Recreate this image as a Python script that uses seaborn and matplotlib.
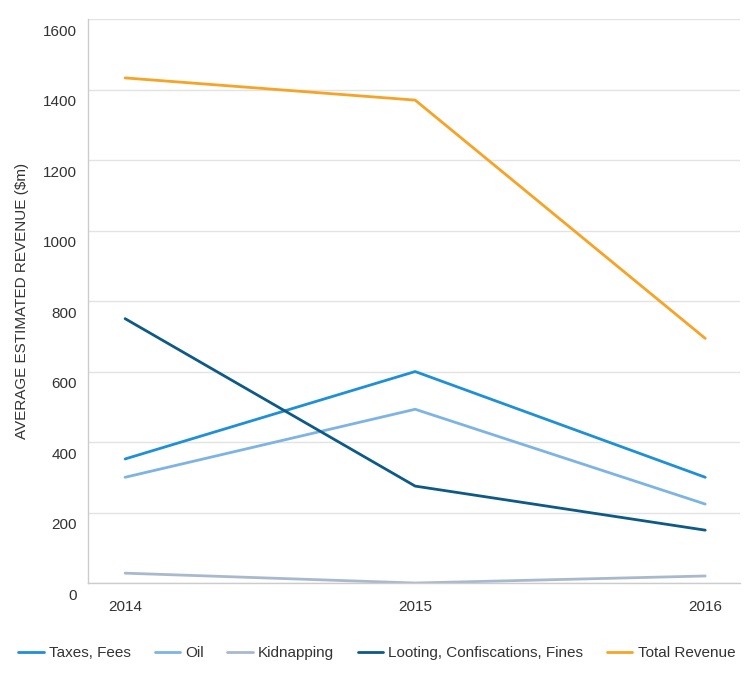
import pandas as pd
import matplotlib.pyplot as plt
import matplotlib.transforms as mtransforms
import seaborn as sns

years = [2014, 2015, 2016]
taxes_fees = [352, 600, 300]
oil = [300, 493, 224]
kidnapping = [28, 0, 20]
looting = [750, 275, 150]
total_revenue = [1433, 1370, 694]

series_names = ["Taxes, Fees", "Oil", "Kidnapping",
                "Looting, Confiscations, Fines", "Total Revenue"]
colors = ["#1f8fd6", "#7db4e2", "#a9b9cd", "#0d5a86", "#f7a325"]

# long-form table for seaborn
rows = []
for name, vals in zip(series_names, [taxes_fees, oil, kidnapping, looting, total_revenue]):
    for yr, v in zip(years, vals):
        rows.append({"Year": yr, "Revenue": v, "Series": name})
df = pd.DataFrame(rows)

sns.set_style("white")
plt.rcParams["font.family"] = ["Liberation Sans", "DejaVu Sans"]

fig = plt.figure(figsize=(7.5, 6.8), dpi=100)
ax = fig.add_axes([0.1173, 0.1426, 0.8694, 0.8294])

sns.lineplot(data=df, x="Year", y="Revenue", hue="Series",
             hue_order=series_names, palette=colors, linewidth=2, ax=ax)

ax.set_xlim(2013.872, 2016.12)
ax.set_ylim(0, 1600)
ax.set_xticks(years)
ax.set_yticks(range(0, 1601, 200))
ax.grid(axis="y", color="#e3e3e3", linewidth=1)
ax.set_axisbelow(True)

for side in ["top", "right"]:
    ax.spines[side].set_visible(False)
for side in ["left", "bottom"]:
    ax.spines[side].set_color("#cccccc")
    ax.spines[side].set_linewidth(1)

ax.tick_params(axis="both", length=0, labelsize=11, colors="#333333")
ax.tick_params(axis="y", pad=8)
ax.tick_params(axis="x", pad=12)
# y tick labels sit a little below their gridlines
offset = mtransforms.ScaledTranslation(0, -8 / 72, fig.dpi_scale_trans)
for lbl in ax.get_yticklabels():
    lbl.set_transform(lbl.get_transform() + offset)

ax.set_xlabel("")
ax.set_ylabel("AVERAGE ESTIMATED REVENUE ($m)", fontsize=11, color="#333333", labelpad=10)

handles, labels = ax.get_legend_handles_labels()
ax.legend(handles, labels, loc="center", bbox_to_anchor=(0.443, -0.124),
          ncol=5, frameon=False, fontsize=11, handlelength=1.65,
          handletextpad=0.35, columnspacing=1.55, labelcolor="#333333")

fig.savefig("out.png", dpi=100)
